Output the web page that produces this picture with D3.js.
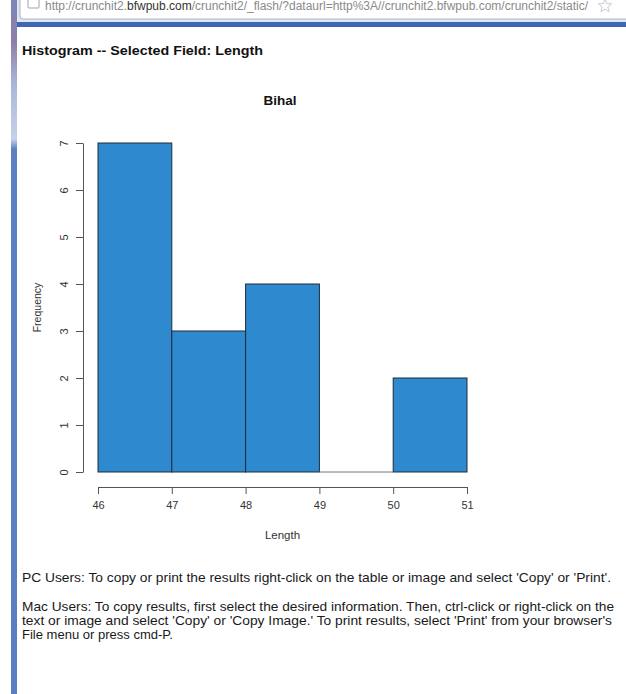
<!DOCTYPE html>
<html>
<head>
<meta charset="utf-8">
<script src="https://cdn.jsdelivr.net/npm/d3@7"></script>
<style>
  html, body { margin: 0; padding: 0; background: #fff; }
  svg { display: block; font-family: "Liberation Sans", Arial, sans-serif; }
</style>
</head>
<body>
<svg id="page" width="626" height="694"></svg>
<script>
// Histogram of the selected field
const binEdges = [46, 47, 48, 49, 50, 51];
const counts = [7, 3, 4, 0, 2];
const yTicks = [0, 1, 2, 3, 4, 5, 6, 7];
const xTicks = [46, 47, 48, 49, 50, 51];

const pageTitle = "Histogram -- Selected Field: Length";
const chartTitle = "Bihal";
const xLabel = "Length";
const yLabel = "Frequency";
const urlParts = ["http://crunchit2.", "bfwpub.com", "/crunchit2/_flash/?dataurl=http%3A//crunchit2.bfwpub.com/crunchit2/static/"];
const notes = [
  ["PC Users: To copy or print the results right-click on the table or image and select 'Copy' or 'Print'."],
  ["Mac Users: To copy results, first select the desired information. Then, ctrl-click or right-click on the",
   "text or image and select 'Copy' or 'Copy Image.' To print results, select 'Print' from your browser's",
   "File menu or press cmd-P."]
];

const svg = d3.select("#page");

// window frame: left border strip and address bar
const defs = svg.append("defs");
const grad = defs.append("linearGradient").attr("id", "frame").attr("x1", 0).attr("y1", 0).attr("x2", 0).attr("y2", 1);
grad.append("stop").attr("offset", "0").attr("stop-color", "#7a86b8");
grad.append("stop").attr("offset", "0.06").attr("stop-color", "#8f7ea8");
grad.append("stop").attr("offset", "0.12").attr("stop-color", "#a9b6d8");
grad.append("stop").attr("offset", "0.2").attr("stop-color", "#c6d2ea");
grad.append("stop").attr("offset", "0.215").attr("stop-color", "#5d80c2");
grad.append("stop").attr("offset", "1").attr("stop-color", "#5a7ec0");
svg.append("rect").attr("x", 11).attr("y", 0).attr("width", 6).attr("height", 694).attr("fill", "url(#frame)");
svg.append("rect").attr("x", 17).attr("y", 0).attr("width", 609).attr("height", 22).attr("fill", "#dfe6f2");
svg.append("rect").attr("x", 20).attr("y", -4).attr("width", 610).attr("height", 23).attr("rx", 3)
  .attr("fill", "#ffffff").attr("stroke", "#a8b4c8");
svg.append("rect").attr("x", 28).attr("y", -2).attr("width", 11).attr("height", 10).attr("rx", 1)
  .attr("fill", "#fff").attr("stroke", "#9aa3b0");
const url = svg.append("text").attr("x", 45).attr("y", 10).attr("font-size", 12).attr("fill", "#8a8a8a")
  .attr("textLength", 543).attr("lengthAdjust", "spacingAndGlyphs");
urlParts.forEach((p, i) => url.append("tspan").text(p).attr("fill", i === 1 ? "#333" : "#8a8a8a"));
// bookmark star outline
const star = d3.range(10).map(i => {
  const a = -Math.PI / 2 + i * Math.PI / 5, r = i % 2 ? 3 : 7;
  return [605 + r * Math.cos(a), 6 + r * Math.sin(a)];
});
svg.append("path").attr("d", d3.line()(star) + "Z").attr("fill", "none").attr("stroke", "#c5ccd6");
svg.append("rect").attr("x", 17).attr("y", 22).attr("width", 609).attr("height", 5).attr("fill", "#3d66b3");

// page heading
svg.append("text").attr("x", 22).attr("y", 55).attr("font-size", 13.5).attr("font-weight", "bold")
  .attr("fill", "#111").attr("textLength", 241).attr("lengthAdjust", "spacingAndGlyphs").text(pageTitle);

// plot scales
const x = d3.scaleLinear().domain([46, 51]).range([98, 467]);
const y = d3.scaleLinear().domain([0, 7]).range([472, 143]);

const bins = counts.map((c, i) => ({ x0: binEdges[i], x1: binEdges[i + 1], n: c }));

svg.append("g").selectAll("rect").data(bins).join("rect")
  .attr("x", d => x(d.x0))
  .attr("y", d => y(d.n))
  .attr("width", d => x(d.x1) - x(d.x0))
  .attr("height", d => y(0) - y(d.n))
  .attr("fill", "#2e89cf")
  .attr("stroke", "#1c2c3c")
  .attr("stroke-width", 1);
// empty bin drawn as a flat line on the baseline
svg.append("line").attr("x1", x(49)).attr("x2", x(50)).attr("y1", y(0)).attr("y2", y(0))
  .attr("stroke", "#777");

// axes
const axisColor = "#555";
const yAxis = svg.append("g").attr("transform", `translate(83,0)`)
  .call(d3.axisLeft(y).tickValues(yTicks).tickSize(7).tickSizeOuter(0).tickFormat(d3.format("d")));
yAxis.selectAll("text").attr("transform", "rotate(-90)").attr("x", 0).attr("y", -19)
  .attr("dy", "0.35em").attr("text-anchor", "middle");

const xAxis = svg.append("g").attr("transform", `translate(0,487)`)
  .call(d3.axisBottom(x).tickValues(xTicks).tickSize(7).tickSizeOuter(0).tickFormat(d3.format("d")));
xAxis.selectAll("text").attr("y", 14);

[yAxis, xAxis].forEach(g => {
  g.select(".domain").attr("stroke", axisColor);
  g.selectAll(".tick line").attr("stroke", axisColor);
  g.selectAll("text").attr("font-size", 11).attr("fill", "#333")
    .attr("font-family", "'Liberation Sans', Arial, sans-serif");
});

// titles
svg.append("text").attr("x", 280).attr("y", 105).attr("text-anchor", "middle")
  .attr("font-size", 13.5).attr("font-weight", "bold").attr("fill", "#111").text(chartTitle);
svg.append("text").attr("x", x(48.5)).attr("y", 539).attr("text-anchor", "middle")
  .attr("font-size", 11.5).attr("fill", "#333").text(xLabel);
svg.append("text").attr("transform", `translate(41,${y(3.5)}) rotate(-90)`).attr("text-anchor", "middle")
  .attr("font-size", 10.5).attr("fill", "#333").text(yLabel);

// usage notes
const noteWidths = [[589], [592, 590, 151]];
let ny = 582;
notes.forEach((para, pi) => {
  para.forEach((line, li) => {
    svg.append("text").attr("x", 22).attr("y", ny).attr("font-size", 13).attr("fill", "#1a1a1a")
      .attr("textLength", noteWidths[pi][li]).attr("lengthAdjust", "spacingAndGlyphs").text(line);
    ny += 14;
  });
  ny += 15;
});
</script>
</body>
</html>
